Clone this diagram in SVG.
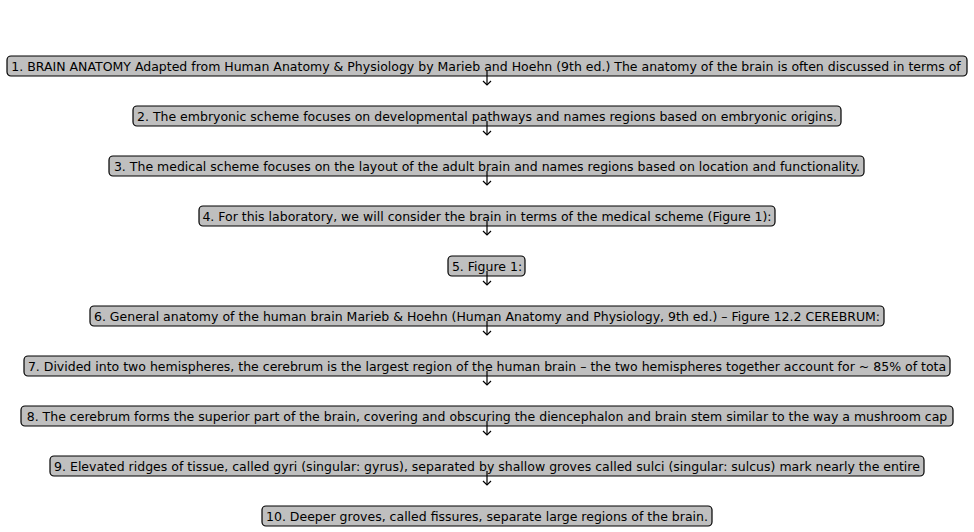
<svg xmlns="http://www.w3.org/2000/svg" width="974" height="532" viewBox="0 0 974 532">
  <defs>
    <marker id="head" markerWidth="10" markerHeight="10" refX="5" refY="5" orient="auto" markerUnits="userSpaceOnUse">
      <path d="M1,1 L5,5 L1,9" fill="none" stroke="#000" stroke-width="1.2"/>
    </marker>
  </defs>
  <style>
    .box rect { fill: #bfbfbf; stroke: #000; stroke-width: 1.2; }
    .box text { font-family: "DejaVu Sans", sans-serif; font-size: 12.5px; fill: #000; text-anchor: middle; dominant-baseline: central; }
    .edge { stroke: #000; stroke-width: 1.2; fill: none; marker-end: url(#head); }
  </style>
  <rect width="974" height="532" fill="#fff"/>

  <g id="n1" class="box"><rect x="7" y="56" width="960" height="20" rx="4"/><text x="486" y="66">1. BRAIN ANATOMY Adapted from Human Anatomy &amp; Physiology by Marieb and Hoehn (9th ed.) The anatomy of the brain is often discussed in terms of</text></g>
  <g id="n2" class="box"><rect x="133" y="106" width="708" height="20" rx="4"/><text x="487" y="116">2. The embryonic scheme focuses on developmental pathways and names regions based on embryonic origins.</text></g>
  <g id="n3" class="box"><rect x="109" y="156" width="755" height="20" rx="4"/><text x="487" y="166">3. The medical scheme focuses on the layout of the adult brain and names regions based on location and functionality.</text></g>
  <g id="n4" class="box"><rect x="199" y="206" width="576" height="20" rx="4"/><text x="487" y="216">4. For this laboratory, we will consider the brain in terms of the medical scheme (Figure 1):</text></g>
  <g id="n5" class="box"><rect x="448" y="256" width="77" height="20" rx="4"/><text x="487" y="266">5. Figure 1:</text></g>
  <g id="n6" class="box"><rect x="90" y="306" width="794" height="20" rx="4"/><text x="487" y="316">6. General anatomy of the human brain Marieb &amp; Hoehn (Human Anatomy and Physiology, 9th ed.) – Figure 12.2 CEREBRUM:</text></g>
  <g id="n7" class="box"><rect x="24" y="356" width="926" height="20" rx="4"/><text x="487" y="366">7. Divided into two hemispheres, the cerebrum is the largest region of the human brain – the two hemispheres together account for ~ 85% of tota</text></g>
  <g id="n8" class="box"><rect x="21" y="406" width="932" height="20" rx="4"/><text x="487" y="416">8. The cerebrum forms the superior part of the brain, covering and obscuring the diencephalon and brain stem similar to the way a mushroom cap</text></g>
  <g id="n9" class="box"><rect x="50" y="456" width="874" height="20" rx="4"/><text x="487" y="466">9. Elevated ridges of tissue, called gyri (singular: gyrus), separated by shallow groves called sulci (singular: sulcus) mark nearly the entire</text></g>
  <g id="n10" class="box"><rect x="262" y="506" width="450" height="20" rx="4"/><text x="487" y="516">10. Deeper groves, called fissures, separate large regions of the brain.</text></g>

  <g id="edges">
    <line class="edge" x1="487" y1="71" x2="487" y2="85"/>
    <line class="edge" x1="487" y1="121" x2="487" y2="135"/>
    <line class="edge" x1="487" y1="171" x2="487" y2="185"/>
    <line class="edge" x1="487" y1="221" x2="487" y2="235"/>
    <line class="edge" x1="487" y1="271" x2="487" y2="285"/>
    <line class="edge" x1="487" y1="321" x2="487" y2="335"/>
    <line class="edge" x1="487" y1="371" x2="487" y2="385"/>
    <line class="edge" x1="487" y1="421" x2="487" y2="435"/>
    <line class="edge" x1="487" y1="471" x2="487" y2="485"/>
  </g>
</svg>
